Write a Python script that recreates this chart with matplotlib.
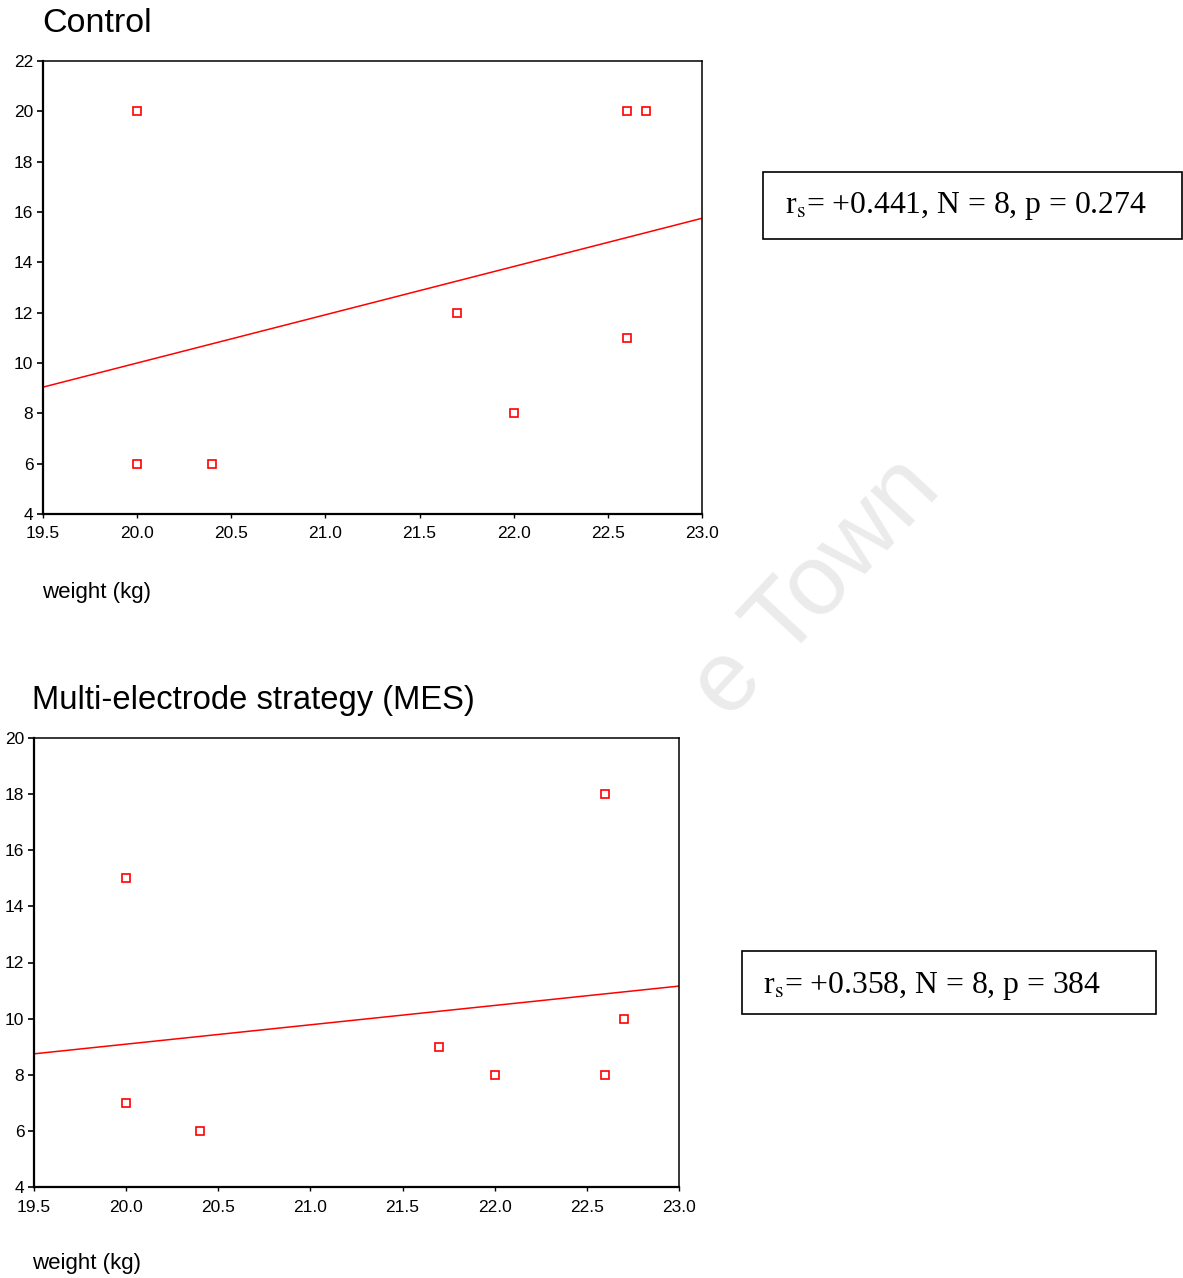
import matplotlib
matplotlib.use("Agg")
import matplotlib.pyplot as plt
from matplotlib.patches import Rectangle
import numpy as np

plt.rcParams['font.family'] = ['Liberation Sans', 'DejaVu Sans']
plt.rcParams['mathtext.fontset'] = 'stix'

# weight (kg) vs. response, one group per panel
weight = [20.0, 20.0, 20.4, 21.7, 22.0, 22.6, 22.7, 22.6]
control = [20, 6, 6, 12, 8, 20, 20, 11]

weight_mes = [20.0, 20.0, 20.4, 21.7, 22.0, 22.6, 22.6, 22.7]
mes = [15, 7, 6, 9, 8, 18, 8, 10]

xticks = [19.5, 20.0, 20.5, 21.0, 21.5, 22.0, 22.5, 23.0]
yticks_control = [4, 6, 8, 10, 12, 14, 16, 18, 20, 22]
yticks_mes = [4, 6, 8, 10, 12, 14, 16, 18, 20]

stats_control = "r$_{\\mathrm{s}}$= +0.441, N = 8, p = 0.274"
stats_mes = "r$_{\\mathrm{s}}$= +0.358, N = 8, p = 384"

W, H = 1183, 1278
fig = plt.figure(figsize=(W / 100, H / 100), dpi=100)


def px(x0, y0, x1, y1):
    # pixel box -> figure fraction [left, bottom, width, height]
    return [x0 / W, 1 - y1 / H, (x1 - x0) / W, (y1 - y0) / H]


# faint background watermark
fig.text(817 / W, 1 - 588 / H, "e Town", fontsize=72, color='#ebebeb',
         rotation=47, ha='center', va='center', rotation_mode='anchor', zorder=0)


def panel(rect, x, y, yticks, ylim):
    ax = fig.add_axes(rect)
    ax.set_facecolor('none')
    ax.plot(x, y, 's', ms=5.5, mfc='none', mec='red', mew=1.2, clip_on=False)
    b, a = np.polyfit(x, y, 1)
    xs = np.array([19.5, 23.0])
    ax.plot(xs, a + b * xs, color='red', lw=1.1)
    ax.set_xlim(19.5, 23.0)
    ax.set_ylim(*ylim)
    ax.set_xticks(xticks)
    ax.set_xticklabels([f"{t:.1f}" for t in xticks])
    ax.set_yticks(yticks)
    ax.tick_params(axis='x', length=3, width=1, pad=6, labelsize=12.5)
    ax.tick_params(axis='y', length=4, width=1.2, pad=3, labelsize=12.5)
    for s in ['left', 'bottom']:
        ax.spines[s].set_linewidth(1.6)
    for s in ['top', 'right']:
        ax.spines[s].set_linewidth(1.1)
    return ax


panel(px(43, 61, 702, 514), weight, control, yticks_control, (4, 22))
panel(px(34, 738, 679, 1187), weight_mes, mes, yticks_mes, (4, 20))

fig.text(42 / W, 1 - 32 / H, "Control", fontsize=24.5, va='baseline')
fig.text(32 / W, 1 - 709 / H, "Multi-electrode strategy (MES)", fontsize=23.6, va='baseline')
fig.text(42 / W, 1 - 598 / H, "weight (kg)", fontsize=16, va='baseline')
fig.text(32 / W, 1 - 1269 / H, "weight (kg)", fontsize=16, va='baseline')

# statistics boxes
for (x0, y0, x1, y1), tx, ty, txt in [((763, 172, 1182, 239), 785, 213, stats_control),
                                      ((742, 951, 1156, 1014), 763, 993, stats_mes)]:
    fig.patches.append(Rectangle((x0 / W, 1 - y1 / H), (x1 - x0) / W, (y1 - y0) / H,
                                 transform=fig.transFigure, fill=False,
                                 edgecolor='black', lw=1.2))
    fig.text(tx / W, 1 - ty / H, txt, fontsize=22.8, va='baseline',
             family=['Liberation Serif', 'DejaVu Serif'])

fig.savefig("out.png", dpi=100)
